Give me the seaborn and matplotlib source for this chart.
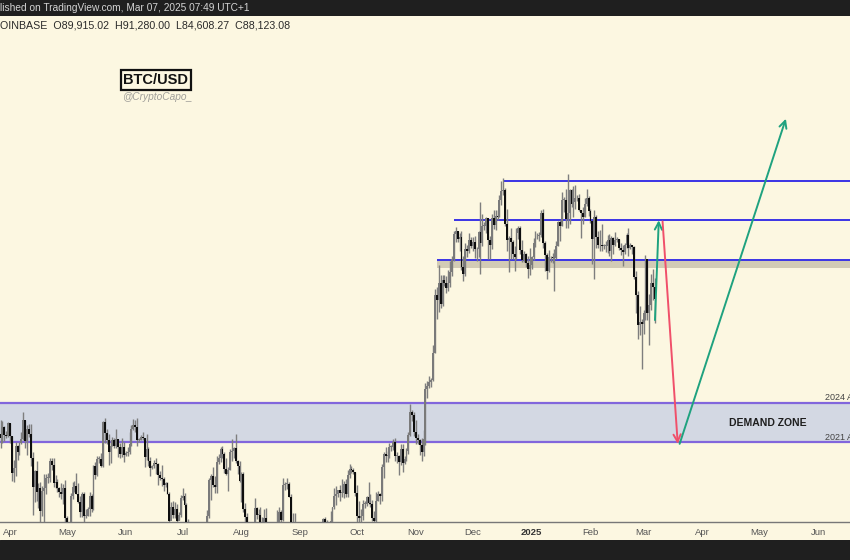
import numpy as np
import pandas as pd
import matplotlib
matplotlib.use("Agg")
import matplotlib.pyplot as plt
import matplotlib.dates as mdates
import seaborn as sns

# ---------------- data (thousand USD, daily, 2024-03-26 .. 2025-03-07) ----------------
first_open = 69.9
close_mar24 = [70.0, 69.5, 70.8, 69.9, 69.7, 71.3]
high_mar24 = [71.5, 71.6, 71.5, 70.9, 70.3, 71.4]
low_mar24 = [69.4, 68.3, 68.9, 69.1, 69.5, 69.6]

close_apr = [69.7, 65.5, 66.0, 68.5, 67.8, 68.9, 69.4, 71.6, 69.1, 70.6, 70.0, 67.1, 63.9, 65.7, 63.4,
             63.8, 61.3, 63.5, 63.8, 64.9, 64.9, 66.8, 66.4, 64.3, 64.5, 63.8, 63.4, 63.1, 63.8, 60.6]
high_apr = [71.3, 69.7, 66.9, 69.0, 68.7, 69.0, 70.2, 72.7, 71.7, 71.0, 71.2, 71.2, 67.9, 65.8, 66.8,
            64.3, 64.5, 64.0, 65.4, 65.4, 65.5, 67.2, 67.2, 67.1, 65.2, 64.8, 63.9, 64.3, 64.2, 64.7]
low_apr = [68.9, 64.6, 64.5, 65.1, 66.9, 67.5, 68.8, 69.2, 68.3, 67.5, 69.6, 66.3, 60.9, 62.3, 62.4,
           61.7, 59.8, 60.8, 59.6, 63.2, 64.3, 64.5, 65.8, 63.9, 63.8, 63.4, 62.8, 62.6, 62.1, 59.8]

close_may = [58.3, 59.1, 62.9, 63.9, 64.0, 63.2, 62.3, 61.2, 63.1, 60.8, 60.8, 61.5, 62.9, 61.6, 66.3, 65.2,
             67.0, 67.0, 66.3, 71.4, 70.1, 69.2, 67.9, 68.5, 69.3, 68.5, 69.4, 68.4, 67.6, 68.4, 67.5]
high_may = [60.8, 59.6, 63.3, 64.5, 64.6, 65.5, 64.4, 62.9, 63.4, 63.4, 61.5, 61.8, 63.4, 63.1, 66.4, 66.7,
            67.4, 67.4, 67.7, 71.5, 71.9, 70.6, 70.0, 69.2, 69.6, 69.5, 70.6, 69.4, 68.9, 69.5, 69.0]
low_may = [56.5, 58.0, 58.8, 62.6, 63.4, 63.1, 62.2, 60.7, 60.7, 60.2, 60.6, 60.8, 60.8, 61.2, 61.4, 64.8,
           65.1, 66.6, 66.1, 66.1, 68.9, 68.8, 66.4, 66.6, 68.5, 68.3, 68.3, 67.3, 67.1, 67.3, 66.7]

close_jun = [67.7, 67.8, 68.8, 70.6, 71.1, 70.8, 69.3, 69.3, 69.6, 69.5, 67.3, 68.2, 66.8, 66.0, 66.2,
             66.6, 66.5, 65.2, 64.9, 64.8, 64.1, 64.3, 63.2, 60.3, 61.8, 60.9, 61.6, 60.3, 60.9, 62.7]
high_jun = [68.0, 68.4, 70.2, 71.0, 71.8, 71.6, 71.9, 69.5, 69.9, 70.2, 69.5, 70.0, 68.4, 67.3, 66.4,
            66.9, 67.2, 66.6, 65.7, 66.4, 65.0, 64.5, 64.5, 63.4, 62.3, 62.4, 62.3, 62.1, 61.2, 63.0]
low_jun = [67.4, 67.4, 67.6, 68.5, 70.4, 70.2, 68.6, 69.0, 69.2, 69.2, 66.1, 66.9, 66.3, 65.1, 65.9,
           66.0, 65.3, 64.1, 64.7, 64.0, 63.5, 63.9, 63.2, 58.5, 60.6, 60.6, 60.6, 60.0, 60.4, 60.7]

close_jul = [62.9, 62.0, 60.2, 57.0, 56.7, 58.2, 56.0, 56.7, 57.9, 57.7, 57.3, 57.9, 59.2, 60.8, 64.7, 65.1,
             64.1, 63.9, 66.7, 67.2, 68.2, 67.6, 65.9, 65.4, 65.8, 67.9, 68.0, 68.3, 66.8, 66.2, 64.6]
high_jul = [63.8, 63.3, 62.2, 60.5, 58.0, 58.5, 58.2, 58.1, 58.3, 59.4, 59.5, 58.5, 59.8, 61.4, 64.9, 65.3,
            66.1, 65.1, 67.4, 67.6, 68.4, 68.5, 67.8, 67.1, 66.1, 68.2, 69.4, 68.4, 70.0, 66.9, 66.8]
low_jul = [62.5, 61.8, 59.6, 56.8, 53.5, 56.0, 55.9, 54.3, 56.4, 57.2, 57.1, 56.6, 57.8, 59.5, 60.6, 62.5,
           63.9, 63.3, 63.3, 66.5, 66.7, 67.1, 65.5, 65.2, 63.5, 65.8, 66.8, 67.1, 66.6, 65.4, 64.5]

close_aug = [65.4, 61.5, 60.7, 58.1, 54.0, 56.0, 55.1, 61.7, 60.9, 60.9, 58.7, 59.4, 60.6, 58.7, 57.6, 58.9,
             59.5, 58.4, 59.5, 59.0, 61.2, 60.4, 64.1, 64.2, 64.2, 62.8, 59.4, 59.0, 59.4, 59.1, 58.9]
high_aug = [65.6, 65.6, 62.2, 61.1, 58.3, 57.1, 57.8, 62.7, 61.8, 61.5, 61.8, 60.7, 61.6, 61.7, 59.8, 59.8,
            59.7, 60.2, 59.6, 61.4, 61.8, 61.4, 64.9, 64.5, 64.9, 64.5, 63.2, 61.1, 61.1, 60.2, 59.4]
low_aug = [62.3, 61.2, 60.1, 57.1, 49.1, 53.9, 54.6, 54.8, 60.5, 60.3, 58.4, 57.7, 58.5, 58.4, 56.1, 57.0,
           58.7, 58.4, 57.9, 58.7, 58.9, 60.0, 60.3, 63.6, 63.7, 62.8, 58.1, 57.9, 58.9, 57.9, 58.8]

close_sep = [57.3, 59.1, 57.5, 58.0, 56.2, 53.9, 54.2, 54.9, 57.0, 57.6, 57.3, 58.1, 60.5, 60.0, 59.1,
             58.2, 60.3, 61.8, 62.9, 63.2, 63.6, 63.3, 63.3, 64.2, 63.1, 65.2, 65.9, 65.8, 65.6, 63.3]
high_sep = [59.0, 59.4, 59.8, 58.5, 58.3, 56.9, 54.9, 55.3, 58.1, 58.0, 57.9, 58.6, 60.6, 60.7, 60.4,
            59.2, 61.3, 61.8, 63.8, 64.0, 63.6, 64.1, 64.8, 64.6, 64.8, 65.8, 66.5, 66.3, 66.0, 65.6]
low_sep = [57.2, 57.1, 57.5, 55.7, 55.6, 52.6, 53.8, 53.7, 54.6, 56.0, 55.6, 57.6, 57.9, 59.5, 58.8,
           57.5, 58.2, 59.2, 61.6, 62.0, 62.8, 62.4, 62.8, 62.7, 62.8, 62.8, 64.9, 65.5, 65.4, 62.9]

close_oct = [60.8, 60.6, 60.8, 62.1, 62.1, 62.8, 62.2, 62.1, 60.6, 60.3, 62.4, 63.2, 62.9, 66.1, 67.6, 67.4,
             67.4, 68.4, 68.4, 69.0, 67.4, 67.4, 66.7, 68.2, 66.6, 67.0, 68.0, 69.9, 72.7, 72.3, 70.2]
high_oct = [64.1, 62.4, 61.5, 62.5, 62.4, 62.9, 64.5, 63.2, 62.5, 61.3, 63.4, 63.5, 63.3, 66.5, 67.9, 68.4,
            68.0, 68.9, 68.7, 69.4, 69.5, 67.8, 67.5, 68.8, 68.8, 67.4, 68.3, 70.2, 73.6, 72.9, 72.6]
low_oct = [60.2, 60.0, 59.9, 60.4, 61.7, 61.9, 62.1, 61.8, 60.3, 58.9, 60.1, 62.4, 62.1, 62.4, 64.9, 66.7,
           66.7, 67.2, 68.0, 68.1, 66.8, 66.6, 65.2, 66.4, 65.6, 66.5, 66.8, 67.6, 69.7, 71.5, 69.7]

close_nov = [69.5, 69.3, 68.7, 67.8, 69.4, 75.6, 75.9, 76.5, 76.7, 80.4, 88.7, 88.0, 90.5, 87.3, 91.1,
             90.6, 89.8, 90.5, 92.3, 94.3, 98.4, 98.9, 97.7, 98.0, 93.0, 91.9, 95.9, 95.6, 97.5, 96.4]
high_nov = [71.6, 70.0, 69.4, 69.5, 70.5, 76.4, 76.6, 77.2, 77.0, 81.5, 89.6, 89.9, 93.4, 91.8, 91.8,
            91.8, 91.7, 92.6, 94.0, 94.9, 99.0, 99.6, 99.0, 98.6, 98.9, 94.8, 97.0, 96.6, 98.7, 98.0]
low_nov = [68.8, 68.8, 67.5, 66.8, 67.4, 68.7, 74.4, 75.7, 75.8, 76.6, 80.3, 85.1, 86.2, 86.7, 87.1,
           90.1, 89.1, 89.4, 90.0, 91.7, 94.1, 97.2, 97.2, 95.7, 92.6, 90.8, 91.6, 94.7, 95.4, 96.1]

close_dec = [97.2, 95.9, 96.0, 98.8, 97.0, 99.9, 99.9, 101.2, 97.4, 96.7, 101.2, 100.0, 101.5, 101.4, 104.3,
             106.0, 106.1, 100.2, 97.5, 97.8, 97.2, 95.1, 94.7, 98.7, 99.4, 95.8, 94.2, 95.2, 93.7, 92.8, 93.4]
high_dec = [97.9, 98.2, 96.3, 99.0, 104.0, 101.9, 100.5, 101.4, 101.2, 98.2, 101.9, 102.5, 102.6, 102.6, 105.2,
            107.8, 108.3, 106.5, 102.8, 98.2, 99.5, 97.4, 96.5, 99.4, 99.9, 99.9, 97.5, 95.7, 95.3, 94.9, 96.1]
low_dec = [95.7, 94.5, 94.0, 94.7, 91.9, 96.4, 99.2, 98.7, 94.4, 94.3, 95.9, 99.3, 99.2, 100.8, 101.3,
           103.4, 105.3, 99.9, 95.6, 92.2, 94.3, 94.4, 92.5, 94.3, 97.6, 95.2, 93.8, 93.8, 93.1, 91.4, 91.8]

close_jan = [94.6, 96.9, 98.1, 98.2, 98.3, 102.1, 96.9, 95.0, 92.5, 94.7, 94.6, 94.5, 94.5, 96.5, 100.5, 99.8,
             104.4, 104.4, 101.1, 102.0, 106.1, 103.7, 104.0, 104.8, 104.7, 102.6, 102.1, 101.3, 103.7, 104.7, 102.4]
high_jan = [94.9, 97.8, 98.9, 98.7, 98.8, 102.5, 102.7, 97.3, 95.3, 95.8, 94.9, 95.4, 95.9, 97.3, 100.7, 100.8,
            105.8, 104.9, 106.3, 109.1, 106.4, 106.3, 106.8, 107.1, 105.3, 105.5, 102.5, 103.2, 104.8, 106.4, 105.0]
low_jan = [92.7, 94.2, 96.3, 97.6, 97.3, 97.9, 96.1, 92.5, 91.2, 92.3, 93.8, 93.7, 89.3, 94.4, 96.5, 97.3,
           99.9, 102.3, 99.5, 99.4, 100.1, 103.2, 101.3, 102.8, 104.1, 102.4, 97.8, 100.2, 101.3, 103.3, 101.5]

close_feb = [100.6, 97.7, 101.4, 97.9, 96.6, 96.6, 96.5, 96.5, 96.5, 97.4, 95.7, 97.8, 96.6, 97.5,
             97.6, 96.1, 95.8, 95.5, 96.6, 98.3, 96.1, 96.6, 96.3, 91.5, 88.7, 84.3, 84.7, 84.4]
high_feb = [102.7, 100.6, 102.5, 101.7, 99.0, 99.1, 100.1, 96.8, 97.3, 98.3, 98.4, 98.1, 98.0, 98.8,
            97.9, 97.7, 97.0, 96.7, 96.9, 98.7, 99.4, 96.9, 96.6, 96.5, 92.4, 89.3, 87.0, 85.1]
low_feb = [100.3, 93.5, 91.2, 96.2, 96.1, 95.6, 95.6, 95.9, 95.5, 95.4, 94.8, 94.1, 95.2, 96.4,
           97.2, 95.8, 95.0, 93.3, 95.2, 96.2, 94.8, 96.0, 95.2, 91.2, 86.0, 82.3, 82.8, 78.2]

close_mar25 = [86.0, 94.3, 86.1, 87.2, 90.6, 89.9, 88.1]
high_mar25 = [86.5, 95.0, 94.4, 88.9, 92.0, 92.8, 91.3]
low_mar25 = [83.0, 85.0, 85.0, 81.4, 86.5, 88.0, 84.6]

# horizontal levels (thousand USD) and their start dates
level_prices = [107.8, 100.8, 94.2]
level_starts = ["2024-12-17", "2024-11-21", "2024-11-12"]
band_range = [92.9, 94.2]
demand_zone = [69.0, 73.75]

# projection arrows: (date, price) pairs
arrow_small_up = [("2025-03-07", 85.0), ("2025-03-09", 100.8)]
arrow_down = [("2025-03-11", 100.6), ("2025-03-19", 68.8)]
arrow_big_up = [("2025-03-20", 68.8), ("2025-05-15", 119.9)]

month_ticks = ["2024-04-01", "2024-05-01", "2024-06-01", "2024-07-01", "2024-08-01", "2024-09-01",
               "2024-10-01", "2024-11-01", "2024-12-01", "2025-01-01", "2025-02-01", "2025-03-01",
               "2025-04-01", "2025-05-01", "2025-06-01"]
month_labels = ["Apr", "May", "Jun", "Jul", "Aug", "Sep", "Oct", "Nov", "Dec", "2025", "Feb", "Mar",
                "Apr", "May", "Jun"]

# ---------------- assemble ----------------
closes = np.array(close_mar24 + close_apr + close_may + close_jun + close_jul + close_aug + close_sep
                  + close_oct + close_nov + close_dec + close_jan + close_feb + close_mar25)
highs = np.array(high_mar24 + high_apr + high_may + high_jun + high_jul + high_aug + high_sep
                 + high_oct + high_nov + high_dec + high_jan + high_feb + high_mar25)
lows = np.array(low_mar24 + low_apr + low_may + low_jun + low_jul + low_aug + low_sep
                + low_oct + low_nov + low_dec + low_jan + low_feb + low_mar25)
opens = np.concatenate([[first_open], closes[:-1]])
dates = pd.date_range("2024-03-26", periods=len(closes), freq="D")
df = pd.DataFrame({"date": dates, "open": opens, "high": highs, "low": lows, "close": closes})
df["x"] = mdates.date2num(df["date"])
df["up"] = df["close"] >= df["open"]

# ---------------- style ----------------
sns.set_theme(style="white")
BG = "#FCF7E1"
plt.rcParams["font.family"] = ["Liberation Sans", "DejaVu Sans"]

fig = plt.figure(figsize=(8.5, 5.6), dpi=100, facecolor=BG)
ax = fig.add_axes([0, 38 / 560, 1, 506 / 560], facecolor=BG)
ax.set_yscale("log")

px_per_day = 1.897
x_left = mdates.date2num(pd.Timestamp("2024-04-01")) - 10 / px_per_day
x_end = x_left + 850 / px_per_day
ax.set_xlim(x_left, x_end)
ax.set_ylim(60.2, 142.9)

# demand zone
ax.axhspan(demand_zone[0], demand_zone[1], color="#D3D8E3", zorder=1, lw=0)
for p in demand_zone:
    ax.axhline(p, color="#8166DC", lw=1.6, zorder=2)

# tan band
bx0 = mdates.date2num(pd.Timestamp(level_starts[2]))
ax.fill_between([bx0, x_end], band_range[0], band_range[1], color="#D2CBB5", lw=0, zorder=1)

# horizontal levels
for p, s in zip(level_prices, level_starts):
    ax.hlines(p, mdates.date2num(pd.Timestamp(s)), x_end, color="#3A33E6", lw=1.4, zorder=2)

# candles
ax.vlines(df["x"], df["low"], df["high"], color="#7E7E7E", lw=1.0, zorder=3)
body_bottom = np.minimum(df["open"], df["close"])
body_h = np.maximum(np.abs(df["close"] - df["open"]), 0.1)
colors = np.where(df["up"], "#7A7A7A", "#0E0E0E")
ax.bar(df["x"], body_h, bottom=body_bottom, width=1.0, color=colors, lw=0, zorder=4)

# arrows
def arr(pts, color):
    (d0, p0), (d1, p1) = pts
    ax.annotate("", xy=(mdates.date2num(pd.Timestamp(d1)), p1),
                xytext=(mdates.date2num(pd.Timestamp(d0)), p0),
                arrowprops=dict(arrowstyle="->", color=color, lw=1.4, mutation_scale=13,
                                shrinkA=0, shrinkB=0), zorder=6)

arr(arrow_small_up, "#1FA27F")
arr(arrow_down, "#F0506A")
arr(arrow_big_up, "#1FA27F")

# texts inside chart
ax.text(768 / 850, 1 - (423 - 16) / 506, "DEMAND ZONE", transform=ax.transAxes, ha="center",
        va="center", fontsize=7.5, fontweight="bold", color="#1E1E1E", zorder=7)
ax.text(825 / 850, 1 - (397 - 16) / 506, "2024 ATH", transform=ax.transAxes, ha="left",
        va="center", fontsize=6.5, color="#444444", zorder=7)
ax.text(825 / 850, 1 - (437 - 16) / 506, "2021 ATH", transform=ax.transAxes, ha="left",
        va="center", fontsize=6.5, color="#444444", zorder=7)

ax.text(156 / 850, 1 - (80 - 16) / 506, "BTC/USD", transform=ax.transAxes, ha="center",
        va="center", fontsize=10.5, fontweight="bold", color="#111111", zorder=7,
        bbox=dict(boxstyle="square,pad=0.2", facecolor=BG, edgecolor="#111111", lw=1.6))
ax.text(157 / 850, 1 - (97 - 16) / 506, "@CryptoCapo_", transform=ax.transAxes, ha="center",
        va="center", fontsize=7.3, style="italic", color="#A09F9A", zorder=7)

ax.text(0, 1 - (25 - 16) / 506, "OINBASE  O89,915.02  H91,280.00  L84,608.27  C88,123.08",
        transform=ax.transAxes, ha="left", va="center", fontsize=7.7, color="#2A2A2A", zorder=7)

# axes styling
ax.set_xticks([mdates.date2num(pd.Timestamp(t)) for t in month_ticks])
ax.set_xticklabels(month_labels)
ax.tick_params(axis="x", length=0, pad=4, labelsize=6.8, labelcolor="#555555")
for lbl in ax.get_xticklabels():
    if lbl.get_text() == "2025":
        lbl.set_fontweight("bold")
        lbl.set_color("#333333")
ax.set_yticks([])
ax.yaxis.set_minor_locator(matplotlib.ticker.NullLocator())
ax.set_xlabel("")
ax.set_ylabel("")
sns.despine(ax=ax, left=True, top=True, right=True, bottom=False)
ax.spines["bottom"].set_color("#777777")
ax.spines["bottom"].set_linewidth(1.0)

# header & footer bars
hdr = fig.add_axes([0, 1 - 16 / 560, 1, 16 / 560])
hdr.set_axis_off()
hdr.add_patch(plt.Rectangle((0, 0), 1, 1, transform=hdr.transAxes, color="#1F1F1F"))
hdr.text(0, 0.5, "lished on TradingView.com, Mar 07, 2025 07:49 UTC+1", ha="left", va="center",
         fontsize=7.3, color="#D4D4D4", transform=hdr.transAxes)
ftr = fig.add_axes([0, 0, 1, 20 / 560])
ftr.set_axis_off()
ftr.add_patch(plt.Rectangle((0, 0), 1, 1, transform=ftr.transAxes, color="#1F1F1F"))

fig.savefig("out.png", dpi=100, facecolor=BG)
